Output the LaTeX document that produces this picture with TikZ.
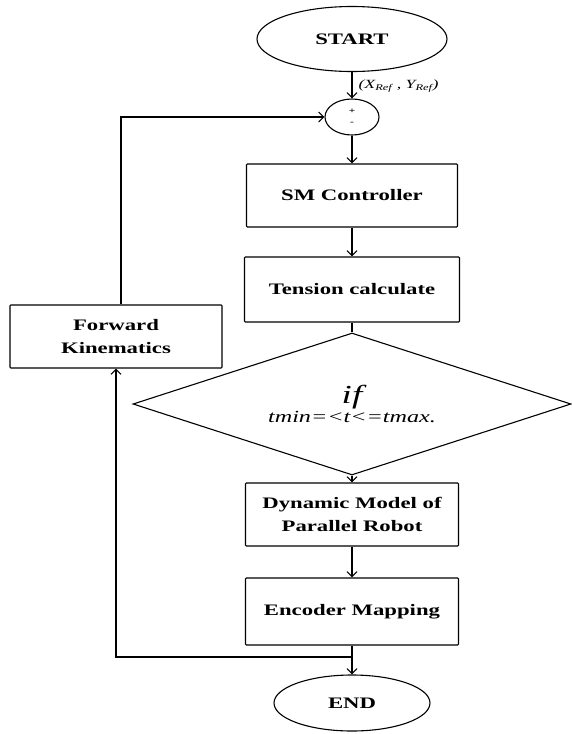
\documentclass[tikz,border=0pt]{standalone}
\usepackage{fontspec}
\setmainfont{Liberation Serif}[FakeStretch=1.42]
\usetikzlibrary{shapes.geometric,arrows.meta}
\begin{document}
\begin{tikzpicture}[x=1pt,y=-1pt,
  line width=1.1pt,
  label font/.style={font=\fontsize{16}{23}\selectfont\bfseries},
  box/.style={draw, rectangle, inner sep=0pt, align=center, rounded corners=0.8pt, label font},
  term/.style={draw, ellipse, inner sep=0pt, label font},
  flow/.style={-{Straight Barb[length=5pt,width=10pt]}},
]
\useasboundingbox (0,0) rectangle (572,734);

% terminals
\node[term, minimum width=190pt, minimum height=65pt] (start) at (352,39) {START};
\node[term, minimum width=156pt, minimum height=56pt] (end) at (352,703) {END};

% summing junction
\node[draw, ellipse, minimum width=54pt, minimum height=36pt, inner sep=0pt] (sum) at (352,117) {};
\node[font=\fontsize{8}{8}\selectfont\bfseries, inner sep=0pt] (plus) at (352,111) {+};
\node[font=\fontsize{8}{8}\selectfont\bfseries, inner sep=0pt] (minus) at (352,123) {-};
\node[anchor=west, inner sep=0pt, font=\fontsize{12.5}{13}\selectfont\itshape] (ref) at (358,86)
  {(X\textsubscript{Ref} , Y\textsubscript{Ref})};

% process blocks
\node[box, minimum width=211pt, minimum height=63pt] (sm) at (352,195.5) {SM Controller};
\node[box, minimum width=215pt, minimum height=65pt] (tens) at (352,289.5) {Tension calculate};
\node[box, minimum width=213pt, minimum height=63pt] (dyn) at (352,514.5) {Dynamic Model of\\Parallel Robot};
\node[box, minimum width=213pt, minimum height=67pt] (enc) at (352,611.5) {Encoder Mapping};
\node[box, minimum width=212pt, minimum height=63pt] (fk) at (116,336.5) {Forward\\Kinematics};

% tension limit check
\node[draw, diamond, aspect=3, minimum width=438pt, minimum height=142pt, inner sep=0pt, align=center] (cond) at (352,404)
  {{\fontsize{26}{26}\selectfont\itshape if}\\[2pt]
   {\fontsize{17}{17}\selectfont\itshape tmin=<t<=tmax.}};

% main flow
\draw[flow] (start) -- (sum);
\draw[flow] (sum) -- (sm);
\draw[flow] (sm) -- (tens);
\draw (tens) -- (cond);
\draw[flow] (cond) -- (dyn);
\draw[flow] (dyn) -- (enc);
\draw[flow] (enc) -- (end);

% feedback loop
\coordinate (split) at (352,657);
\draw[flow] (split) -| (fk.south);
\draw[flow] ([xshift=5pt]fk.north) |- (sum.west);
\end{tikzpicture}
\end{document}
